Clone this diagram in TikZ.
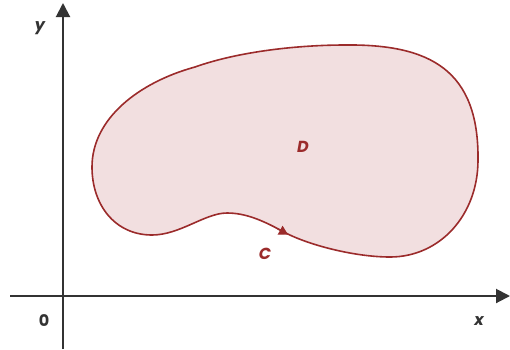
\documentclass[tikz,border=0pt]{standalone}
\usepackage{fontspec}
\setmainfont{Poppins}
\usetikzlibrary{arrows.meta}
\definecolor{borde}{HTML}{9B2B2B}
\definecolor{relleno}{HTML}{F2DFE0}
\definecolor{ejes}{HTML}{333333}
\begin{document}
\begin{tikzpicture}[x=1pt, y=-1pt,
    every node/.style={font=\fontsize{16}{18}\selectfont\bfseries\itshape},
    eje/.style={ejes, line width=2pt, -{Triangle[length=14pt,width=14pt]}}]
    \useasboundingbox (0,0) rectangle (510,349);

    % Region D con su frontera C.
    \filldraw[fill=relleno, draw=borde, line width=1.6pt]
        (92,167) .. controls (92,118) and (140,82) .. (195,67)
        .. controls (240,51) and (300,45) .. (345,45)
        .. controls (430,44) and (479,70) .. (478,160)
        .. controls (478,215) and (440,257) .. (390,257)
        .. controls (355,257) and (307,245) .. (282,231)
        .. controls (262,220) and (245,213) .. (227,213)
        .. controls (205,213) and (180,235) .. (152,235)
        .. controls (115,235) and (92,205) .. (92,167) -- cycle;

    % Sentido de recorrido.
    \coordinate (c1) at (276,228);
    \coordinate (c2) at (288,234.5);
    \draw[borde, line width=1.2pt, -{Triangle[length=9pt,width=10pt]}] (c1) -- (c2);

    % Ejes coordenados.
    \coordinate (xini) at (10,296);
    \coordinate (xfin) at (510,296);
    \coordinate (yini) at (63,349);
    \coordinate (yfin) at (63,3);
    \draw[eje] (xini) -- (xfin);
    \draw[eje] (yini) -- (yfin);

    % Etiquetas.
    \node[ejes] (ly) at (40,28) {y};
    \node[ejes] (lx) at (479,321) {x};
    \node[ejes, font=\fontsize{16}{18}\selectfont\bfseries] (lo) at (44,321) {0};
    \node[borde] (lD) at (303,147) {D};
    \node[borde] (lC) at (265,254) {C};
\end{tikzpicture}
\end{document}
